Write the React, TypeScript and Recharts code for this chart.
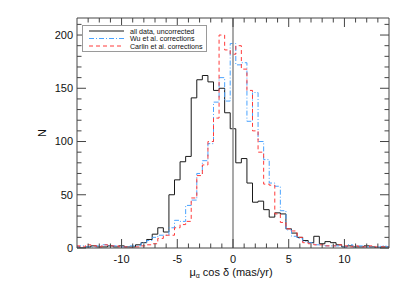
import { LineChart, Line, XAxis, YAxis, ReferenceLine, Legend } from "recharts";

// bin centres (mas/yr), 0.5 wide bins
const binCenters = [
  -14, -13.5, -13, -12.5, -12, -11.5, -11, -10.5, -10, -9.5, -9, -8.5, -8, -7.5, -7, -6.5, -6, -5.5, -5,
  -4.5, -4, -3.5, -3, -2.5, -2, -1.5, -1, -0.5, 0, 0.5, 1, 1.5, 2, 2.5, 3, 3.5, 4, 4.5, 5, 5.5, 6, 6.5,
  7, 7.5, 8, 8.5, 9, 9.5, 10, 10.5, 11, 11.5, 12, 12.5, 13, 13.5, 14,
];

const uncorrected = [
  1, 0, 1, 2, 1, 1, 2, 1, 2, 1, 1, 3, 5, 8, 13, 19, 15, 50, 64, 81, 86, 141, 158, 162, 156, 148, 150, 127,
  112, 80, 84, 61, 43, 44, 36, 29, 33, 32, 18, 14, 10, 7, 5, 11, 4, 6, 5, 3, 1, 2, 1, 1, 2, 1, 0, 1, 1,
];

const wuCorrected = [
  1, 2, 1, 1, 2, 3, 2, 2, 1, 1, 2, 2, 5, 7, 10, 12, 12, 19, 26, 25, 40, 45, 70, 82, 98, 137, 160, 138,
  192, 172, 174, 119, 146, 100, 83, 61, 58, 35, 17, 11, 9, 6, 5, 3, 3, 2, 2, 2, 1, 3, 1, 2, 1, 1, 1, 2, 1,
];

const carlinCorrected = [
  2, 1, 3, 2, 1, 3, 2, 2, 1, 1, 0, 1, 2, 3, 4, 9, 12, 12, 19, 22, 25, 47, 68, 78, 100, 122, 200, 186,
  182, 190, 168, 148, 110, 90, 60, 59, 32, 24, 18, 16, 10, 5, 4, 3, 3, 2, 2, 3, 2, 1, 2, 1, 1, 2, 1, 1, 1,
];

const xMajorTicks = [-10, -5, 0, 5, 10];
const xMinorTicks = [-13, -12, -11, -9, -8, -7, -6, -4, -3, -2, -1, 1, 2, 3, 4, 6, 7, 8, 9, 11, 12, 13];
const yMajorTicks = [0, 50, 100, 150, 200];
const yMinorTicks = [10, 20, 30, 40, 60, 70, 80, 90, 110, 120, 130, 140, 160, 170, 180, 190, 210];

const legendItems = [
  { label: "all data, uncorrected", color: "#1a1a1a", dash: "" },
  { label: "Wu et al. corrections", color: "#4aa3ff", dash: "5 2 1 2" },
  { label: "Carlin et al. corrections", color: "#ff3b3b", dash: "4 3" },
];

const data = binCenters.map((x, i) => ({
  x,
  raw: uncorrected[i],
  wu: wuCorrected[i],
  carlin: carlinCorrected[i],
}));

const X_DOMAIN: [number, number] = [-14, 14];
const Y_DOMAIN: [number, number] = [0, 216];

const W = 391;
const H = 289;
const MARGIN = { top: 10, right: 10, bottom: 19, left: 9 };
const Y_AXIS_W = 60;
const X_AXIS_H = 30;
const PLOT_W = W - MARGIN.left - MARGIN.right - Y_AXIS_W;
const PLOT_H = H - MARGIN.top - MARGIN.bottom - X_AXIS_H;

// inward tick lengths in px, turned into data units
const MAJ = 9;
const MIN = 4.5;
const xPerPx = (X_DOMAIN[1] - X_DOMAIN[0]) / PLOT_W;
const yPerPx = (Y_DOMAIN[1] - Y_DOMAIN[0]) / PLOT_H;

const FONT = "'Liberation Sans', Arial, Helvetica, sans-serif";
const AXIS = "#444";

const XLabel = (props: any) => {
  const { x, y, width } = props.viewBox;
  return (
    <text x={x + width / 2 - 2} y={y + 28} textAnchor="middle" fontSize={11} fill="#111" fontFamily={FONT}>
      μ<tspan fontSize={7} dy={2}>α</tspan>
      <tspan dy={-2}> cos δ (mas/yr)</tspan>
    </text>
  );
};

const YLabel = (props: any) => {
  const { x, y, width, height } = props.viewBox;
  const tx = x + width - 31;
  const ty = y + height / 2;
  return (
    <text x={tx} y={ty} transform={`rotate(-90 ${tx} ${ty})`} textAnchor="middle" fontSize={11} fill="#111" fontFamily={FONT}>
      N
    </text>
  );
};

const renderLegend = () => (
  <div style={{ width: 125, height: 27, border: "1px solid #9a9a9a", background: "#fff", boxSizing: "border-box" }}>
    <svg width={123} height={25} style={{ display: "block" }}>
      {legendItems.map((it, i) => (
        <g key={it.label}>
          <line x1={6} x2={41} y1={5 + i * 7.5} y2={5 + i * 7.5} stroke={it.color} strokeWidth={1} strokeDasharray={it.dash} />
          <text x={47} y={7.5 + i * 7.5} fontSize={7.1} fill="#111" fontFamily={FONT}>
            {it.label}
          </text>
        </g>
      ))}
    </svg>
  </div>
);

const tickLines = (len: number, xs: number[], ys: number[]) => {
  const dy = len * yPerPx;
  const dx = len * xPerPx;
  const out: any[] = [];
  xs.forEach((t) => {
    out.push(<ReferenceLine key={`b${len}${t}`} segment={[{ x: t, y: Y_DOMAIN[0] }, { x: t, y: Y_DOMAIN[0] + dy }]} stroke={AXIS} />);
    out.push(<ReferenceLine key={`t${len}${t}`} segment={[{ x: t, y: Y_DOMAIN[1] }, { x: t, y: Y_DOMAIN[1] - dy }]} stroke={AXIS} />);
  });
  ys.forEach((t) => {
    out.push(<ReferenceLine key={`l${len}${t}`} segment={[{ x: X_DOMAIN[0], y: t }, { x: X_DOMAIN[0] + dx, y: t }]} stroke={AXIS} />);
    out.push(<ReferenceLine key={`r${len}${t}`} segment={[{ x: X_DOMAIN[1], y: t }, { x: X_DOMAIN[1] - dx, y: t }]} stroke={AXIS} />);
  });
  return out;
};

export default function App() {
  return (
    <div style={{ width: W, height: H, fontFamily: FONT }}>
      <LineChart width={W} height={H} data={data} margin={MARGIN}>
        <XAxis dataKey="x" type="number" domain={X_DOMAIN} allowDataOverflow ticks={xMajorTicks} interval={0} height={X_AXIS_H} tickSize={0} tickMargin={7} tickLine={false} axisLine={false} tick={{ fill: "#111", fontSize: 11 }} label={{ content: XLabel }} />
        <YAxis type="number" domain={Y_DOMAIN} allowDataOverflow ticks={yMajorTicks} interval={0} width={Y_AXIS_W} tickSize={0} tickMargin={4} tickLine={false} axisLine={false} tick={{ fill: "#111", fontSize: 11 }} label={{ content: YLabel }} />

        <Line type="step" dataKey="raw" stroke="#1a1a1a" strokeWidth={1} dot={false} isAnimationActive={false} />
        <Line type="step" dataKey="wu" stroke="#4aa3ff" strokeWidth={1} strokeDasharray="5 2 1 2" dot={false} isAnimationActive={false} />
        <Line type="step" dataKey="carlin" stroke="#ff3b3b" strokeWidth={1} strokeDasharray="4 3" dot={false} isAnimationActive={false} />

        <ReferenceLine x={0} stroke="#8c8c8c" strokeWidth={1.5} />

        {/* box frame */}
        <ReferenceLine y={Y_DOMAIN[0]} stroke={AXIS} />
        <ReferenceLine y={Y_DOMAIN[1]} stroke={AXIS} />
        <ReferenceLine x={X_DOMAIN[0]} stroke={AXIS} />
        <ReferenceLine x={X_DOMAIN[1]} stroke={AXIS} />
        {tickLines(MAJ, xMajorTicks, yMajorTicks)}
        {tickLines(MIN, xMinorTicks, yMinorTicks)}

        <Legend
          layout="vertical"
          align="center"
          verticalAlign="middle"
          content={renderLegend}
          wrapperStyle={{ left: 74, top: 17, width: 125, height: 27 }}
        />
      </LineChart>
    </div>
  );
}
